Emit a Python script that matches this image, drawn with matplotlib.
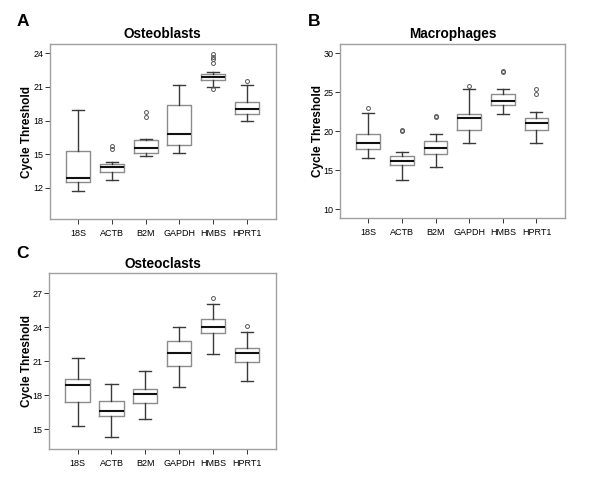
import matplotlib
matplotlib.use("Agg")
import matplotlib.pyplot as plt

plt.rcParams['font.family'] = ['Liberation Sans', 'DejaVu Sans']

genes = ["18S", "ACTB", "B2M", "GAPDH", "HMBS", "HPRT1"]

# Osteoblasts
ob_low = [11.7, 12.7, 14.8, 15.1, 20.95, 18.0]
ob_q1 = [12.55, 13.45, 15.1, 15.85, 21.65, 18.55]
ob_med = [12.9, 13.9, 15.6, 16.8, 21.85, 19.05]
ob_q3 = [15.3, 14.15, 16.25, 19.4, 22.15, 19.65]
ob_high = [18.95, 14.3, 16.4, 21.2, 22.3, 21.2]
ob_out = [[], [15.45, 15.7], [18.3, 18.75], [], [20.8, 23.15, 23.45, 23.7, 23.95], [21.55]]

# Macrophages
ma_low = [16.55, 13.75, 15.4, 18.45, 22.15, 18.45]
ma_q1 = [17.7, 15.65, 17.05, 20.1, 23.3, 20.1]
ma_med = [18.55, 16.2, 17.8, 21.75, 23.8, 21.0]
ma_q3 = [19.6, 16.85, 18.7, 22.25, 24.8, 21.65]
ma_high = [22.35, 17.4, 19.7, 25.4, 25.4, 22.5]
ma_out = [[23.0], [20.05, 20.2], [21.8, 21.95], [25.8], [27.6, 27.7], [24.8, 25.4]]

# Osteoclasts
oc_low = [15.3, 14.3, 15.9, 18.7, 21.6, 19.3]
oc_q1 = [17.45, 16.15, 17.3, 20.6, 23.45, 20.9]
oc_med = [18.9, 16.6, 18.1, 21.7, 24.0, 21.7]
oc_q3 = [19.4, 17.5, 18.55, 22.75, 24.7, 22.15]
oc_high = [21.3, 19.0, 20.15, 24.0, 26.0, 23.6]
oc_out = [[], [], [], [], [26.6], [24.1]]


def make_stats(low, q1, med, q3, high, out):
    stats = []
    for i in range(len(genes)):
        stats.append({"whislo": low[i], "q1": q1[i], "med": med[i], "q3": q3[i],
                      "whishi": high[i], "fliers": out[i], "label": genes[i]})
    return stats


def draw_panel(ax, stats, title, letter, ylim, yticks, letter_y):
    ax.bxp(stats, widths=0.71, showfliers=True,
           boxprops=dict(color="#8c8c8c", linewidth=1.0),
           whiskerprops=dict(color="#3a3a3a", linewidth=1.0),
           capprops=dict(color="#3a3a3a", linewidth=1.0),
           medianprops=dict(color="#111111", linewidth=1.5),
           flierprops=dict(marker="o", markersize=2.8, markerfacecolor="none",
                           markeredgecolor="#555555", markeredgewidth=0.7))
    ax.set_xlim(0.16, 6.84)
    ax.set_ylim(*ylim)
    ax.set_yticks(yticks)
    ax.set_yticklabels([str(t) for t in yticks])
    ax.tick_params(axis="both", labelsize=6.5, length=3.5, width=0.7, color="#333333")
    ax.tick_params(axis="y", pad=1)
    for s in ax.spines.values():
        s.set_color("#a0a0a0")
        s.set_linewidth(1.0)
    ax.set_title(title, fontsize=9.8, fontweight="bold", pad=4)
    ax.set_ylabel("Cycle Threshold", fontsize=8.5, fontweight="bold")
    ax.yaxis.set_label_coords(-0.072, 0.5)
    ax.text(-0.145, letter_y, letter, transform=ax.transAxes, fontsize=12.5,
            fontweight="bold", va="top", ha="left")


fig = plt.figure(figsize=(6, 4.8), dpi=100, facecolor="white")

ax1 = fig.add_axes([0.0825, 0.543, 0.3767, 0.366])
ax2 = fig.add_axes([0.5667, 0.546, 0.3745, 0.363])
ax3 = fig.add_axes([0.0817, 0.064, 0.378, 0.3667])

draw_panel(ax1, make_stats(ob_low, ob_q1, ob_med, ob_q3, ob_high, ob_out),
           "Osteoblasts", "A", (9.2, 24.85), [12, 15, 18, 21, 24], 1.17)
draw_panel(ax2, make_stats(ma_low, ma_q1, ma_med, ma_q3, ma_high, ma_out),
           "Macrophages", "B", (8.9, 31.2), [10, 15, 20, 25, 30], 1.17)
draw_panel(ax3, make_stats(oc_low, oc_q1, oc_med, oc_q3, oc_high, oc_out),
           "Osteoclasts", "C", (13.25, 28.75), [15, 18, 21, 24, 27], 1.155)

fig.savefig("out.png", dpi=100)
